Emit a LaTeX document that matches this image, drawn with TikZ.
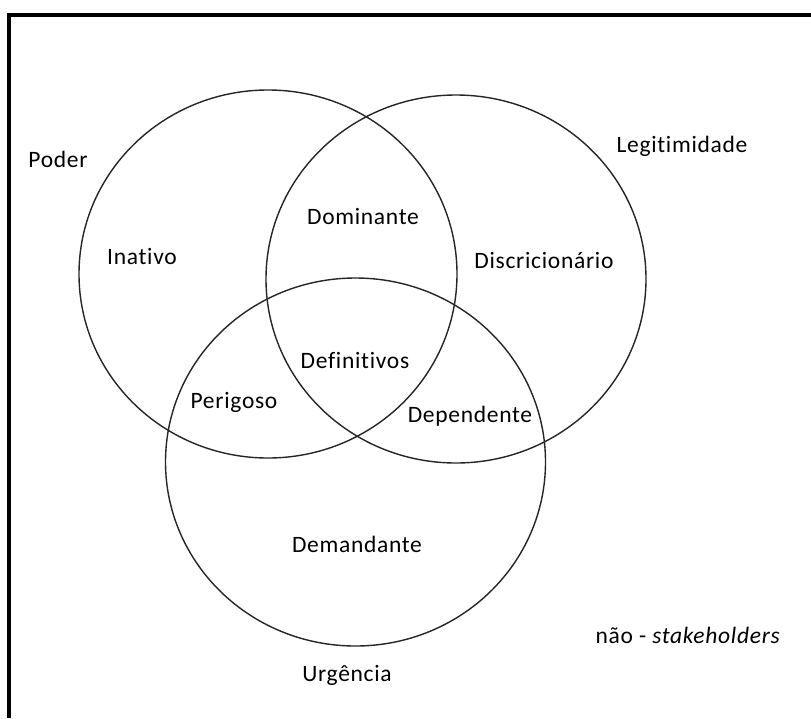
\documentclass[tikz,border=0pt]{standalone}
\usepackage{fontspec}
\setmainfont{Carlito}[Ligatures=NoCommon, LetterSpace=3]
\begin{document}
\begin{tikzpicture}[x=1pt,y=-1pt,
  ring/.style={draw=black!85, line width=1.4pt},
  lbl/.style={inner sep=0pt, anchor=base, font=\fontsize{23.5}{28}\selectfont}]
\useasboundingbox (0,0) rectangle (811,718);
\fill[white] (0,0) rectangle (811,718);
% frame (top and left only)
\draw[line width=4pt] (9,718) -- (9,15) -- (811,15);
% circles
\draw[ring] (268,274) ellipse [x radius=189, y radius=184];
\draw[ring] (456,279) ellipse [x radius=190, y radius=184];
\draw[ring] (355.5,462) ellipse [x radius=190, y radius=184];
% labels
\node[lbl] (poder) at (58,167) {Poder};
\node[lbl] (legit) at (682,152) {Legitimidade};
\node[lbl] (inat) at (142,264) {Inativo};
\node[lbl] (dom) at (363,224) {Dominante};
\node[lbl] (disc) at (544,268) {Discricionário};
\node[lbl] (def) at (355,368) {Definitivos};
\node[lbl] (per) at (234,408) {Perigoso};
\node[lbl] (dep) at (470,422) {Dependente};
\node[lbl] (dem) at (357,552) {Demandante};
\node[lbl] (urg) at (347,681) {Urgência};
\node[lbl] (nao) at (688,643) {não - \textit{stakeholders}};
\end{tikzpicture}
\end{document}
